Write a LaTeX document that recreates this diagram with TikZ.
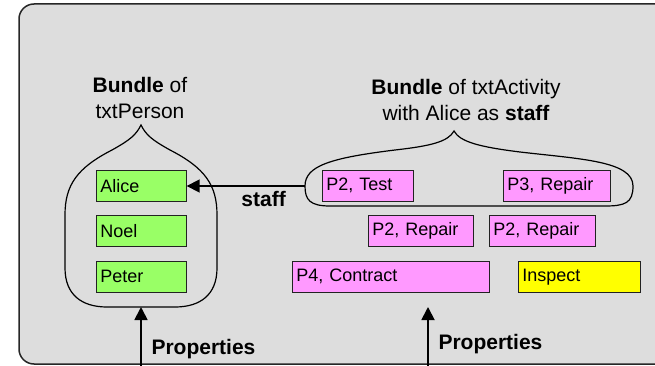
\documentclass[tikz,border=0pt]{standalone}
\usepackage{fontspec}
\setmainfont{Liberation Sans}
\usetikzlibrary{arrows.meta, positioning, calc}
\definecolor{bndGray}{HTML}{DDDDDD}
\definecolor{bndGreen}{HTML}{99FF66}
\definecolor{bndPink}{HTML}{FF99FF}
\definecolor{bndYellow}{HTML}{FFFF00}
\definecolor{bndDark}{HTML}{222222}

\begin{document}
\begin{tikzpicture}[
  x=1pt, y=-1pt,
  item/.style={draw=bndDark, line width=0.7pt, anchor=north west, minimum height=31pt, inner xsep=4pt, inner ysep=0pt, align=left, font=\fontsize{18}{21}\selectfont},
  person/.style={item, fill=bndGreen},
  activity/.style={item, fill=bndPink},
  pending/.style={item, fill=bndYellow},
  caption/.style={align=center, font=\fontsize{21}{26}\selectfont},
  lbl/.style={font=\fontsize{21}{26}\selectfont\bfseries},
  bundle/.style={draw=black, line width=1.2pt},
  link/.style={-{Triangle[length=13pt, width=13pt]}, line width=1.8pt, draw=black}
]
\useasboundingbox (0,0) rectangle (655,366);
\begin{scope}
\clip (0,0) rectangle (655,366);
\fill[bndGray, rounded corners=15pt] (690,4) -- (19,4) -- (19,364) -- (690,364) -- cycle;
\draw[black!85, line width=1.5pt, rounded corners=15pt] (690,4) -- (19,4) -- (19,364) -- (690,364);
\end{scope}

\node[caption] (capperson) at (140,98) {\textbf{Bundle} of\\txtPerson};
\node[caption] (capactivity) at (466,100) {\textbf{Bundle} of txtActivity\\with Alice as \textbf{staff}};

\draw[bundle] (141,125) .. controls (146,135) and (152,140) .. (170,150)
  .. controls (205,168) and (217,185) .. (217,215) -- (217,268)
  .. controls (217,295) and (200,307) .. (175,307) -- (107,307)
  .. controls (82,307) and (65,295) .. (65,268) -- (65,215)
  .. controls (65,185) and (77,168) .. (112,150)
  .. controls (130,140) and (136,135) .. (141,125) -- cycle;
\coordinate (personbase) at (141,307);

\draw[bundle] (454,131) .. controls (460,142) and (480,147) .. (520,152)
  .. controls (580,159) and (633,161) .. (633,186)
  .. controls (633,203) and (625,206) .. (605,206) -- (330,206)
  .. controls (310,206) and (305,200) .. (305,186)
  .. controls (305,166) and (330,158) .. (395,150)
  .. controls (430,146) and (448,142) .. (454,131) -- cycle;
\coordinate (activityedge) at (305,186);

\node[person, text width=82pt] (alice) at (96,170) {Alice};
\node[person, text width=82pt] (noel) at (96,215) {Noel};
\node[person, text width=82pt] (peter) at (96,261) {Peter};

\node[activity, text width=83pt] (p2test) at (322,170) {P2, Test};
\node[activity, text width=99pt] (p3repair) at (503,170) {P3, Repair};
\node[activity, text width=97pt] (p2repaira) at (368,215) {P2, Repair};
\node[activity, text width=98pt] (p2repairb) at (489,215) {P2, Repair};
\node[activity, text width=189pt] (p4contract) at (292,261) {P4, Contract};
\node[pending, text width=114pt] (inspect) at (518,261) {Inspect};

\draw[link] (activityedge) -- (alice.east |- activityedge) node[lbl, pos=0.35, below=1pt] {staff};

\coordinate (leftfoot) at (141,366);
\coordinate (rightfoot) at (428,366);
\coordinate (activitybase) at (428,307);
\draw[link] (leftfoot) -- (personbase);
\node[lbl, anchor=west] (leftprops) at (148,349) {Properties};
\draw[link] (rightfoot) -- (activitybase);
\node[lbl, anchor=west] (rightprops) at (435,344) {Properties};
\end{tikzpicture}
\end{document}
